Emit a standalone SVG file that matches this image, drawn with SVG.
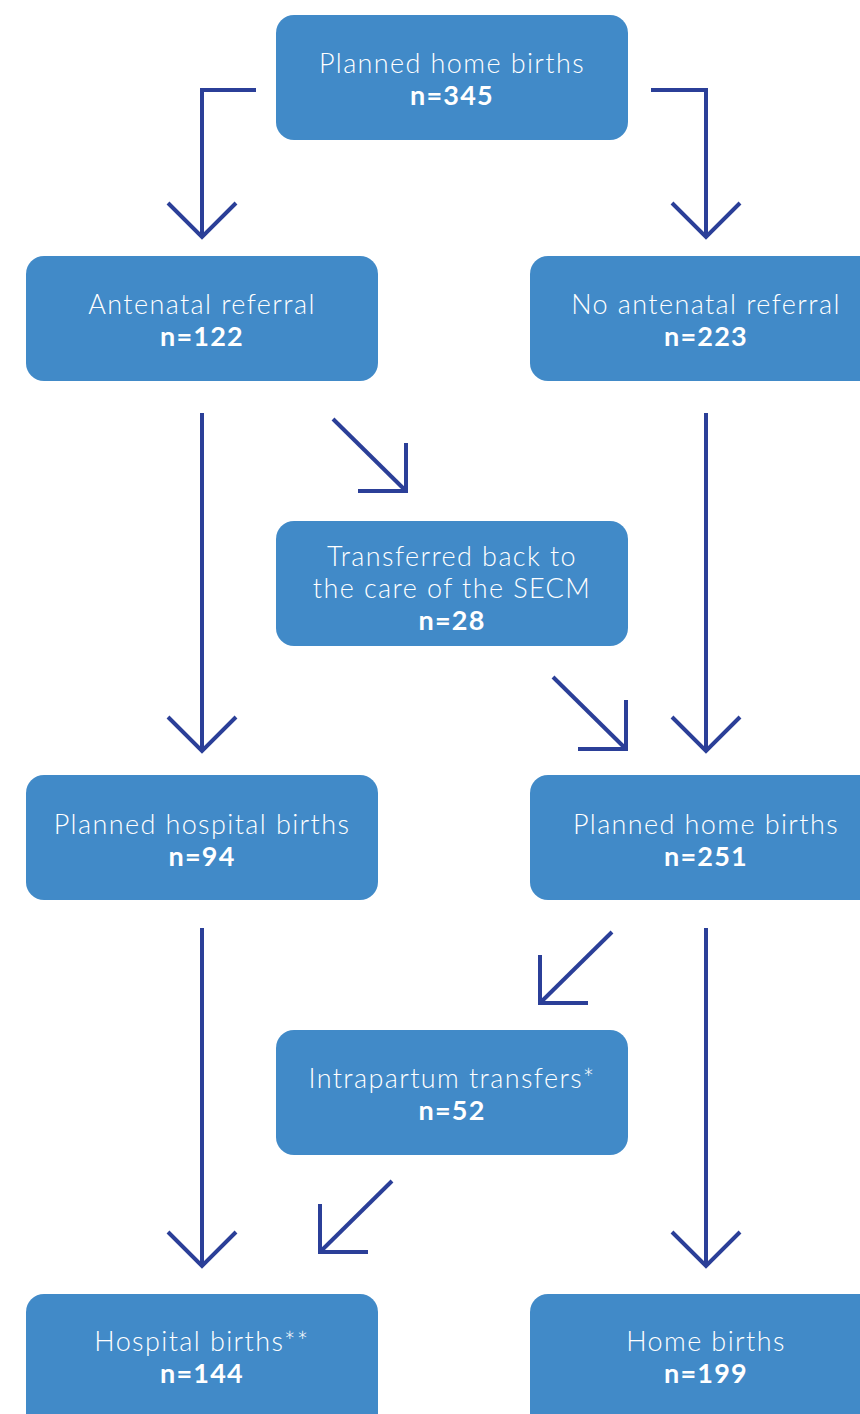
<svg xmlns="http://www.w3.org/2000/svg" width="860" height="1414" viewBox="0 0 860 1414">
<style>
.box{fill:#418ac8}
.t{font-family:Lato,"Liberation Sans",sans-serif;font-weight:300;font-size:27px;fill:#ffffff;text-anchor:middle;letter-spacing:1.4px}
.b{font-family:Lato,"Liberation Sans",sans-serif;font-weight:700;font-size:27px;fill:#ffffff;text-anchor:middle;letter-spacing:1.2px}
.c{fill:none;stroke:#2b3f98;stroke-width:4}
</style>
<rect width="860" height="1414" fill="#ffffff"/>
<g id="connectors">
<polyline class="c" points="256,90 202,90 202,236"/>
<polyline class="c" points="168,203 202,237 236,203"/>
<polyline class="c" points="651,90 706,90 706,236"/>
<polyline class="c" points="672,203 706,237 740,203"/>
<line class="c" x1="202" y1="413" x2="202" y2="750"/>
<polyline class="c" points="168,717 202,751 236,717"/>
<line class="c" x1="706" y1="413" x2="706" y2="750"/>
<polyline class="c" points="672,717 706,751 740,717"/>
<line class="c" x1="333" y1="419" x2="405" y2="490"/>
<polyline class="c" points="406,443 406,491 358,491"/>
<line class="c" x1="553" y1="677" x2="625" y2="748"/>
<polyline class="c" points="626,700 626,749 578,749"/>
<line class="c" x1="202" y1="928" x2="202" y2="1265"/>
<polyline class="c" points="168,1232 202,1266 236,1232"/>
<line class="c" x1="706" y1="928" x2="706" y2="1265"/>
<polyline class="c" points="672,1232 706,1266 740,1232"/>
<line class="c" x1="612" y1="932" x2="541" y2="1002"/>
<polyline class="c" points="540,955 540,1003 588,1003"/>
<line class="c" x1="392" y1="1181" x2="321" y2="1251"/>
<polyline class="c" points="320,1204 320,1252 368,1252"/>
</g>
<g id="n1"><rect class="box" x="276" y="15" width="352" height="125" rx="18"/>
<text class="t" x="452" y="73">Planned home births</text><text class="b" x="452" y="105">n=345</text></g>
<g id="n2"><rect class="box" x="26" y="256" width="352" height="125" rx="18"/>
<text class="t" x="202" y="314">Antenatal referral</text><text class="b" x="202" y="346">n=122</text></g>
<g id="n3"><rect class="box" x="530" y="256" width="352" height="125" rx="18"/>
<text class="t" x="706" y="314">No antenatal referral</text><text class="b" x="706" y="346">n=223</text></g>
<g id="n4"><rect class="box" x="276" y="521" width="352" height="125" rx="18"/>
<text class="t" x="452" y="566">Transferred back to</text><text class="t" x="452" y="598">the care of the SECM</text><text class="b" x="452" y="630">n=28</text></g>
<g id="n5"><rect class="box" x="26" y="775" width="352" height="125" rx="18"/>
<text class="t" x="202" y="834">Planned hospital births</text><text class="b" x="202" y="866">n=94</text></g>
<g id="n6"><rect class="box" x="530" y="775" width="352" height="125" rx="18"/>
<text class="t" x="706" y="834">Planned home births</text><text class="b" x="706" y="866">n=251</text></g>
<g id="n7"><rect class="box" x="276" y="1030" width="352" height="125" rx="18"/>
<text class="t" x="452" y="1088">Intrapartum transfers*</text><text class="b" x="452" y="1120">n=52</text></g>
<g id="n8"><rect class="box" x="26" y="1294" width="352" height="140" rx="18"/>
<text class="t" x="202" y="1351">Hospital births**</text><text class="b" x="202" y="1383">n=144</text></g>
<g id="n9"><rect class="box" x="530" y="1294" width="352" height="140" rx="18"/>
<text class="t" x="706" y="1351">Home births</text><text class="b" x="706" y="1383">n=199</text></g>
</svg>
